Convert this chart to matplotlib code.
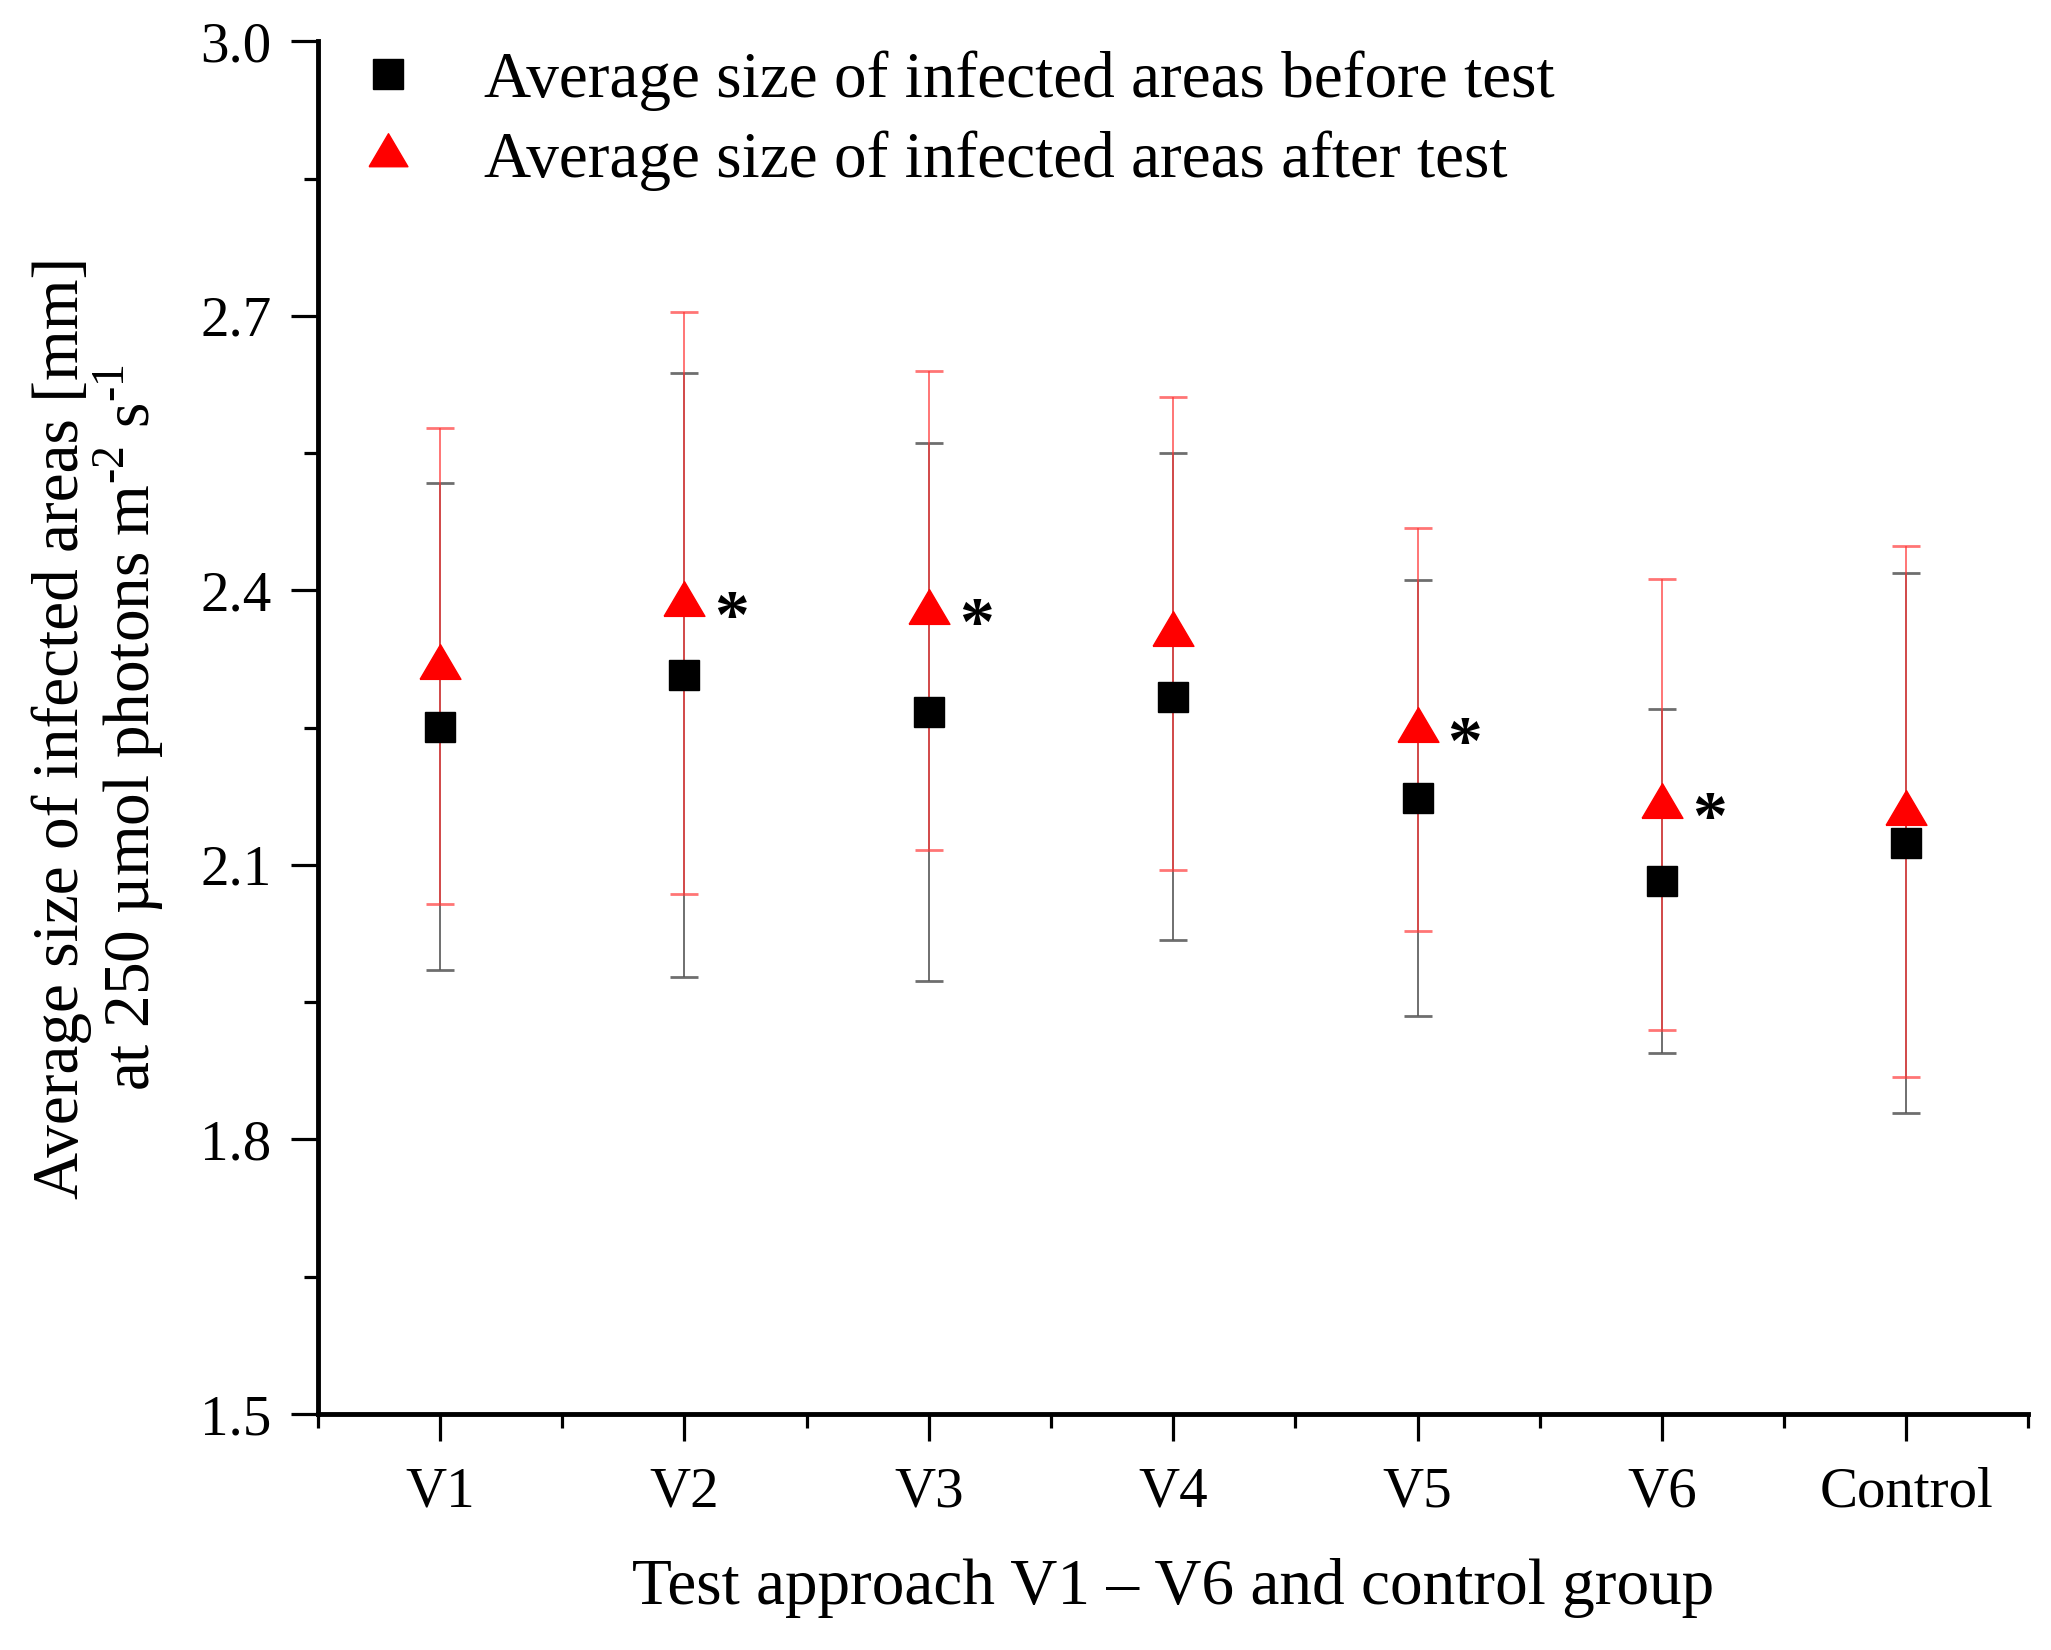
import numpy as np
import matplotlib.pyplot as plt
from matplotlib.ticker import MultipleLocator

plt.rcParams['font.family'] = ['Liberation Serif', 'DejaVu Serif']
plt.rcParams['mathtext.fontset'] = 'custom'
plt.rcParams['mathtext.rm'] = 'Liberation Serif'

# data
groups = ['V1', 'V2', 'V3', 'V4', 'V5', 'V6', 'Control']
before_mean = [2.251, 2.307, 2.267, 2.284, 2.173, 2.082, 2.124]
before_sd = [0.266, 0.330, 0.294, 0.266, 0.238, 0.188, 0.295]
after_mean = [2.317, 2.386, 2.378, 2.353, 2.248, 2.166, 2.158]
after_sd = [0.260, 0.318, 0.262, 0.258, 0.220, 0.246, 0.290]
significant = [False, True, True, False, True, True, False]

x = np.arange(1, len(groups) + 1)

fig = plt.figure(figsize=(20.51, 16.5), dpi=100)
ax = fig.add_axes([0.155, 0.143, 0.834, 0.832])

# triangle drawn around its centroid like Origin does
tri = [(-1, -0.63), (1, -0.63), (0, 1.07), (-1, -0.63)]

ax.errorbar(x, before_mean, yerr=before_sd, fmt='none', ecolor='#555555',
            elinewidth=1.4, capsize=10, capthick=2.0, alpha=0.85, zorder=2)
ax.errorbar(x, after_mean, yerr=after_sd, fmt='none', ecolor='#ff3b3b',
            elinewidth=1.4, capsize=10, capthick=2.0, alpha=0.7, zorder=3)
ax.plot(x, before_mean, linestyle='none', marker='s', markersize=22,
        color='black', zorder=4,
        label='Average size of infected areas before test')
ax.plot(x, after_mean, linestyle='none', marker=tri, markersize=31.5,
        color='red', zorder=5,
        label='Average size of infected areas after test')

for xi, yi, s in zip(x, after_mean, significant):
    if s:
        ax.annotate('*', (xi, yi), xytext=(34, -25), textcoords='offset points',
                    fontsize=50, fontweight='bold', ha='center', va='baseline')

ax.set_xlim(0.5, 7.5)
ax.set_ylim(1.5, 3.0)
ax.set_xticks(x)
ax.set_xticklabels(groups)
ax.xaxis.set_minor_locator(MultipleLocator(0.5))
ax.yaxis.set_major_locator(MultipleLocator(0.3))
ax.yaxis.set_minor_locator(MultipleLocator(0.15))
ax.yaxis.set_major_formatter(plt.FormatStrFormatter('%.1f'))

for side in ['top', 'right']:
    ax.spines[side].set_visible(False)
for side in ['left', 'bottom']:
    ax.spines[side].set_linewidth(3.5)

ax.tick_params(which='major', direction='out', length=19.5, width=2.3,
               labelsize=41)
ax.tick_params(axis='y', which='major', pad=14)
ax.tick_params(axis='x', which='major', pad=18)
ax.tick_params(which='minor', direction='out', length=10, width=2.3)

ax.set_xlabel('Test approach V1 \u2013 V6 and control group', fontsize=47)
ax.xaxis.set_label_coords(0.5, -0.127)
ax.xaxis.label.set_va('center')
ax.set_ylabel('Average size of infected areas [mm]\n'
              'at 250 \u00b5mol photons m$^{\\text{-2}}$ s$^{\\text{-1}}$',
              fontsize=47, linespacing=1.0)
ax.yaxis.set_label_coords(-0.128, 0.5)
ax.yaxis.label.set_va('center')

ax.legend(loc='upper left', frameon=False, fontsize=47, handlelength=1.5,
          handletextpad=0.71, borderaxespad=0, borderpad=0.2,
          labelspacing=0.3, markerscale=0.95,
          bbox_to_anchor=(0.005, 1.003))

fig.savefig('out.png', dpi=100)
